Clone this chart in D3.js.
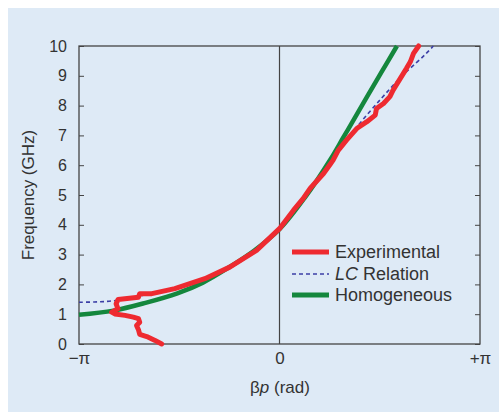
<!DOCTYPE html>
<html>
<head>
<meta charset="utf-8">
<script src="https://cdn.jsdelivr.net/npm/d3@7"></script>
<style>
  html, body { margin: 0; padding: 0; background: #ffffff; }
  svg { display: block; }
  text { font-family: "Liberation Sans", Arial, Helvetica, sans-serif; fill: #333; }
</style>
</head>
<body>
<svg id="chart" width="499" height="412"></svg>
<script>
const PI = Math.PI;
// Experimental (βp in rad, frequency in GHz)
const expBeta = [-1.846, -1.95, -2.08, -2.19, -2.21, -2.24, -2.19, -2.21, -2.29, -2.42, -2.58, -2.63, -2.53, -2.56, -2.53, -2.21, -2.19, -2.0, -1.64, -1.17, -0.78, -0.36, 0.0, 0.22, 0.37, 0.48, 0.69, 0.80, 0.84, 0.92, 1.05, 1.21, 1.37, 1.50, 1.52, 1.63, 1.73, 1.78, 1.99, 2.05, 2.10, 2.18];
const expFreq = [0.0, 0.12, 0.25, 0.32, 0.48, 0.62, 0.73, 0.85, 0.90, 0.96, 1.01, 1.07, 1.18, 1.35, 1.49, 1.57, 1.69, 1.69, 1.86, 2.19, 2.58, 3.14, 3.87, 4.49, 4.88, 5.22, 5.72, 6.05, 6.17, 6.50, 6.84, 7.23, 7.46, 7.68, 7.90, 8.07, 8.30, 8.52, 9.25, 9.47, 9.75, 10.0];
// LC relation
const lcBeta = [-PI, -2.9, -2.7, -2.5, -2.3, -2.0, -1.6, -1.2, -0.8, -0.4, 0.0, 0.4, 0.8, 1.2, 1.6, 1.9, 2.15, 2.3, 2.41];
const lcFreq = [1.40, 1.41, 1.43, 1.48, 1.56, 1.70, 1.92, 2.20, 2.60, 3.12, 3.85, 4.95, 6.10, 7.25, 8.25, 8.95, 9.45, 9.75, 10.0];
// Homogeneous
const homBeta = [-PI, -2.6, -2.1, -1.6, -1.2, -0.8, -0.4, 0.0, 0.4, 0.8, 1.0, 1.2, 1.4, 1.6, 1.84];
const homFreq = [0.98, 1.12, 1.38, 1.70, 2.06, 2.56, 3.13, 3.85, 4.92, 6.20, 6.93, 7.66, 8.40, 9.13, 10.0];

const yTicks = [0, 1, 2, 3, 4, 5, 6, 7, 8, 9, 10];
const xTicks = [-PI, 0, PI];
const xTickLabels = ["\u2212\u03c0", "0", "+\u03c0"];
const legendLabels = ["Experimental", "LC Relation", "Homogeneous"];

const svg = d3.select("#chart");
svg.append("rect").attr("x", 8).attr("y", 8).attr("width", 491).attr("height", 404).attr("fill", "#deeaf6");

const x = d3.scaleLinear().domain([-PI, PI]).range([79, 480]);
const y = d3.scaleLinear().domain([0, 10]).range([344, 46]);

// axes
const gl = svg.append("g").attr("transform", "translate(79,0)")
  .call(d3.axisLeft(y).tickValues(yTicks).tickSize(-5).tickPadding(12).tickFormat(d3.format("d")));
gl.select(".domain").remove();
gl.selectAll("text").attr("font-size", 16).attr("fill", "#333").style("font-family", "Liberation Sans, Arial, sans-serif");
gl.selectAll("line").attr("stroke", "#444");

const gr = svg.append("g").attr("transform", "translate(480,0)")
  .call(d3.axisRight(y).tickValues(yTicks).tickSize(-5).tickFormat(""));
gr.select(".domain").remove();
gr.selectAll("line").attr("stroke", "#444");

const gb = svg.append("g").attr("transform", "translate(0,344)")
  .call(d3.axisBottom(x).tickValues(xTicks).tickSize(0).tickPadding(8).tickFormat((d, i) => xTickLabels[i]));
gb.select(".domain").remove();
gb.selectAll("text").attr("font-size", 17).attr("fill", "#333").style("font-family", "Liberation Sans, Arial, sans-serif");

// frame
svg.append("rect").attr("x", 79).attr("y", 46).attr("width", 401).attr("height", 298)
  .attr("fill", "none").attr("stroke", "#444").attr("stroke-width", 1.3);
// zero line
svg.append("line").attr("x1", x(0)).attr("x2", x(0)).attr("y1", y(0)).attr("y2", y(10))
  .attr("stroke", "#444").attr("stroke-width", 1.2);

// curves
const smooth = d3.line().x(d => x(d[0])).y(d => y(d[1])).curve(d3.curveCatmullRom.alpha(0.5));
const lin = d3.line().x(d => x(d[0])).y(d => y(d[1]));

svg.append("path").datum(d3.zip(homBeta, homFreq)).attr("d", smooth)
  .attr("fill", "none").attr("stroke", "#14873d").attr("stroke-width", 4.5);
svg.append("path").datum(d3.zip(lcBeta, lcFreq)).attr("d", smooth)
  .attr("fill", "none").attr("stroke", "#3c3fa6").attr("stroke-width", 1.6).attr("stroke-dasharray", "4,3");
svg.append("path").datum(d3.zip(expBeta, expFreq)).attr("d", lin)
  .attr("fill", "none").attr("stroke", "#ee2a30").attr("stroke-width", 5)
  .attr("stroke-linejoin", "round").attr("stroke-linecap", "round");

// legend
const lg = svg.append("g");
const ly = [252, 274, 295];
lg.append("line").attr("x1", 292).attr("x2", 329).attr("y1", ly[0]).attr("y2", ly[0]).attr("stroke", "#ee2a30").attr("stroke-width", 5);
lg.append("line").attr("x1", 292).attr("x2", 329).attr("y1", ly[1]).attr("y2", ly[1]).attr("stroke", "#3c3fa6").attr("stroke-width", 1.6).attr("stroke-dasharray", "4,3");
lg.append("line").attr("x1", 292).attr("x2", 329).attr("y1", ly[2]).attr("y2", ly[2]).attr("stroke", "#14873d").attr("stroke-width", 5);
lg.append("text").attr("x", 335).attr("y", ly[0] + 6).attr("font-size", 18).text(legendLabels[0]);
const t2 = lg.append("text").attr("x", 335).attr("y", ly[1] + 6).attr("font-size", 18);
t2.append("tspan").attr("font-style", "italic").text(legendLabels[1].split(" ")[0]);
t2.append("tspan").text(" " + legendLabels[1].split(" ").slice(1).join(" "));
lg.append("text").attr("x", 335).attr("y", ly[2] + 6).attr("font-size", 18).text(legendLabels[2]);

// axis titles
const xt = svg.append("text").attr("x", 280).attr("y", 393).attr("text-anchor", "middle").attr("font-size", 17);
xt.append("tspan").text("\u03b2");
xt.append("tspan").attr("font-style", "italic").text("p");
xt.append("tspan").text(" (rad)");
svg.append("text").attr("transform", "translate(34,195) rotate(-90)").attr("text-anchor", "middle")
  .attr("font-size", 17).text("Frequency (GHz)");
</script>
</body>
</html>
